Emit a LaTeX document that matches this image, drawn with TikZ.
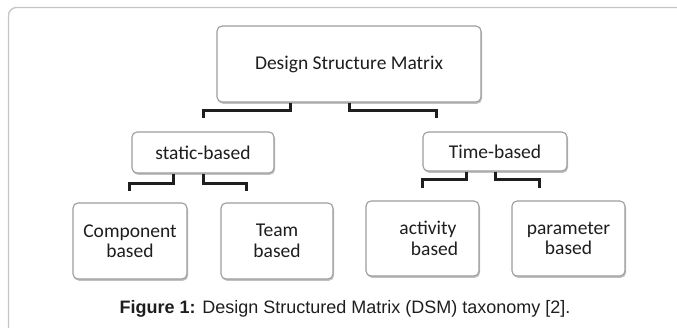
\documentclass[tikz,border=0pt]{standalone}
\usepackage{fontspec}
\setmainfont{Carlito}
\newfontfamily\capfont{Liberation Sans}
\usepackage{tikz}
\usetikzlibrary{positioning,shadows,calc}

\definecolor{framegray}{HTML}{C4C4C4}
\definecolor{boxgray}{HTML}{9C9C9C}
\definecolor{inkgray}{HTML}{1E1E1E}

\begin{document}
\begin{tikzpicture}[x=1pt,y=-1pt,
	box/.style={shape=rectangle, draw=boxgray, line width=1.1pt, rounded corners=5pt,
		fill=white, text=inkgray, align=center,
		font=\fontsize{19.5}{20.5}\selectfont,
		drop shadow={shadow xshift=1pt, shadow yshift=-1.8pt, opacity=0.35, fill=black!70}},
	link/.style={draw=inkgray, line width=3pt}]
				\useasboundingbox (0,0) rectangle (677,327);
				\clip (0,0) rectangle (677,327);
				
				%frame
				\draw[framegray, line width=1.3pt, rounded corners=8pt] (8.5,7.5) rectangle (700,350);
				
				%nodes
				\draw (349,64) node [box, minimum width=264pt, minimum height=76pt] (dsm) {Design Structure Matrix};
				\draw (203,152.5) node [box, minimum width=142pt, minimum height=41pt] (static) {static-based};
				\draw (495,151.5) node [box, minimum width=144pt, minimum height=39pt] (time) {Time-based};
				\draw (130,241) node [box, minimum width=114pt, minimum height=76pt] (comp) {Component\\based};
				\draw (277,241) node [box, minimum width=112pt, minimum height=76pt] (team) {Team\\based};
				\draw (422.5,238.5) node [box, minimum width=113pt, minimum height=75pt] (act) {\hspace*{11pt}activity\\\hspace*{24pt}based};
				\draw (568.5,238.5) node [box, minimum width=113pt, minimum height=75pt] (param) {parameter\\based};
				
				%bracket ends
				\coordinate (staticend) at (203,118);
				\coordinate (timeend) at (436,118);
				\coordinate (compend) at (129,191);
				\coordinate (teamend) at (246,191);
				\coordinate (actend) at (422,188);
				\coordinate (paramend) at (539,188);
				
				%lines
				\draw[link] ([xshift=-59pt]dsm.south) -- ++(0,8) -| (staticend);
				\draw[link] (dsm.south) -- ++(0,8) -| (timeend);
				\draw[link] ([xshift=-30pt]static.south) -- ++(0,10) -| (compend);
				\draw[link] (static.south) -- ++(0,10) -| (teamend);
				\draw[link] ([xshift=-29pt]time.south) -- ++(0,8) -| (actend);
				\draw[link] (time.south) -- ++(0,8) -| (paramend);
				
				%caption
				\draw (345,309) node [text=inkgray, font=\capfont\fontsize{18}{20}\selectfont] (caption) {\textbf{Figure 1:} Design Structured Matrix (DSM) taxonomy [2].};
\end{tikzpicture}
\end{document}
